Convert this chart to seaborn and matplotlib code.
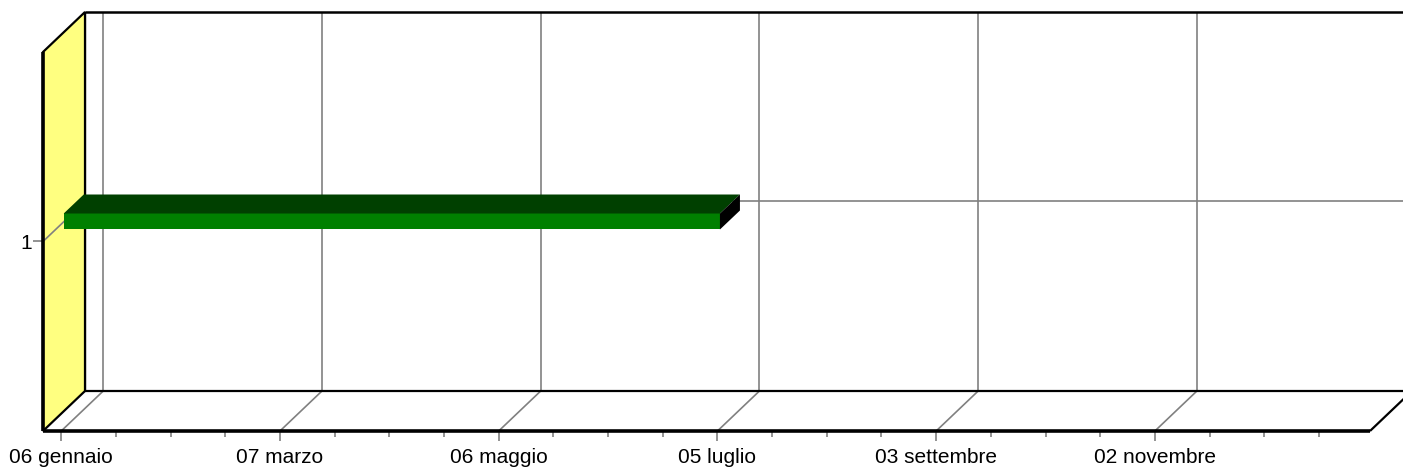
import numpy as np
import pandas as pd
import matplotlib
matplotlib.use("Agg")
import matplotlib.pyplot as plt
import matplotlib.dates as mdates
from matplotlib.patches import Polygon
import seaborn as sns

# ---- data ----
tasks = ["1"]
task_pos = [1]
task_start = ["2007-01-06"]
task_end = ["2007-07-05"]
tick_dates = ["2007-01-06", "2007-03-07", "2007-05-06", "2007-07-05", "2007-09-03", "2007-11-02"]
tick_labels = ["06 gennaio", "07 marzo", "06 maggio", "05 luglio", "03 settembre", "02 novembre"]
axis_start = "2007-01-01"
axis_end = "2007-12-31"
minor_step_days = 15

sns.set_theme(style="white")
plt.rcParams["font.family"] = ["Liberation Sans", "DejaVu Sans"]

W, H, DPI = 1403, 469, 100
fig = plt.figure(figsize=(W / DPI, H / DPI), dpi=DPI)
fig.patch.set_facecolor("white")
ax = fig.add_axes([43 / W, 38 / H, (1370 - 43) / W, (431 - 52) / H])
ax.set_facecolor("none")
for s in ax.spines.values():
    s.set_visible(False)

xs = mdates.date2num(pd.to_datetime([axis_start, axis_end]))
x0, x1 = xs[0], xs[1]
y0, y1 = 0.5, 1.5
ax.set_xlim(x0, x1)
ax.set_ylim(y0, y1)

DX, DY = 42, 40  # depth offset in pixels


def P(x, y, dx=0.0, dy=0.0):
    px, py = ax.transData.transform((x, y))
    return ax.transData.inverted().transform((px + dx, py + dy))


def line(pts, **kw):
    arr = np.array(pts)
    ax.plot(arr[:, 0], arr[:, 1], clip_on=False, solid_capstyle="butt", **kw)


GRID = "#808080"

# floor
floor = [P(x0, y0), P(x1, y0), P(x1, y0, DX, DY), P(x0, y0, DX, DY)]
ax.add_patch(Polygon(floor, closed=True, facecolor="white", edgecolor="none", zorder=1, clip_on=False))

# gridlines
tnum = mdates.date2num(pd.to_datetime(tick_dates))
for t in tnum:
    line([P(t, y0, DX, DY), P(t, y1, DX, DY)], color=GRID, lw=1.2, zorder=2)
    line([P(t, y0), P(t, y0, DX, DY)], color=GRID, lw=1.2, zorder=2)
for yp in task_pos:
    line([P(x0, yp, DX, DY), P(x1, yp, DX, DY)], color=GRID, lw=1.2, zorder=2)

# back wall edges
line([P(x0, y0, DX, DY), P(x0, y1, DX, DY)], color="black", lw=1.6, zorder=2.5)
line([P(x0, y1, DX, DY), P(x1, y1, DX, DY)], color="black", lw=1.8, zorder=2.5)
line([P(x0, y0, DX, DY), P(x1, y0, DX, DY)], color="black", lw=1.6, zorder=2.5)
line([P(x1, y0), P(x1, y0, DX, DY)], color="black", lw=1.6, zorder=2.5)

# left wall
wall = [P(x0, y0), P(x0, y1), P(x0, y1, DX, DY), P(x0, y0, DX, DY)]
ax.add_patch(Polygon(wall, closed=True, facecolor="#FFFF80", edgecolor="black", lw=1.6, zorder=3, clip_on=False))
for yp in task_pos:
    line([P(x0, yp), P(x0, yp, DX, DY)], color=GRID, lw=1.2, zorder=3.5)

# front edges
line([P(x0, y0), P(x1, y0)], color="black", lw=2.6, zorder=4)
line([P(x0, y0), P(x0, y1)], color="black", lw=2.6, zorder=4)

# bars
BH = 16      # bar face height px
BDX, BDY = 20, 19  # bar depth px
SX, SY = 2.5, 20   # face shift px
for yp, s, e in zip(task_pos, task_start, task_end):
    xs_, xe_ = mdates.date2num(pd.to_datetime([s, e]))
    bl = P(xs_, yp, SX, SY - BH / 2)
    tl = P(xs_, yp, SX, SY + BH / 2)
    y_c = P(xs_, yp, SX, SY)[1]
    hgt = tl[1] - bl[1]
    ax.barh([y_c], [xe_ - xs_], left=[P(xs_, yp, SX, 0)[0]], height=hgt,
            color="#008000", edgecolor="none", zorder=5, clip_on=False)
    top = [P(xs_, yp, SX, SY + BH / 2), P(xe_, yp, SX, SY + BH / 2),
           P(xe_, yp, SX + BDX, SY + BH / 2 + BDY), P(xs_, yp, SX + BDX, SY + BH / 2 + BDY)]
    ax.add_patch(Polygon(top, closed=True, facecolor="#004000", edgecolor="none", zorder=5, clip_on=False))
    side = [P(xe_, yp, SX, SY - BH / 2), P(xe_, yp, SX, SY + BH / 2),
            P(xe_, yp, SX + BDX, SY + BH / 2 + BDY), P(xe_, yp, SX + BDX, SY - BH / 2 + BDY)]
    ax.add_patch(Polygon(side, closed=True, facecolor="black", edgecolor="none", zorder=5, clip_on=False))

# ticks
ax.set_xticks(tnum)
ax.set_xticklabels(tick_labels)
minor = mdates.date2num(pd.date_range(tick_dates[0], axis_end, freq=f"{minor_step_days}D"))
ax.set_xticks(minor, minor=True)
ax.set_yticks(task_pos)
ax.set_yticklabels(tasks)
ax.tick_params(axis="x", which="major", length=7, width=1.2, color=GRID, pad=5,
               labelsize=15, labelcolor="black", bottom=True)
ax.tick_params(axis="x", which="minor", length=4, width=1.2, color=GRID, bottom=True)
ax.tick_params(axis="y", which="major", length=7, width=1.2, color=GRID, pad=1,
               labelsize=15, labelcolor="black", left=True)
ax.grid(False)

fig.savefig("out.png", dpi=DPI)
